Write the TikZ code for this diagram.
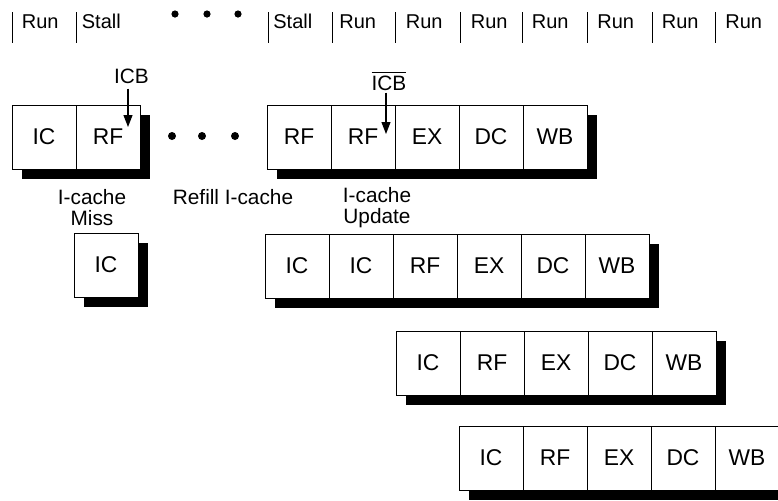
\documentclass[tikz,border=0pt]{standalone}
\usepackage{fontspec}
\setmainfont{Liberation Sans}
\usetikzlibrary{positioning,shadows,arrows.meta}

\tikzset{
  stage/.style={draw, fill=white, line width=0.5pt, outer sep=0pt, inner sep=0pt,
    minimum width=32pt, minimum height=32pt,
    font=\fontsize{11.4}{13}\selectfont,
    drop shadow={shadow xshift=5pt, shadow yshift=-5pt, fill=black, opacity=1}},
  note/.style={align=center, inner sep=0pt, font=\fontsize{10.4}{10.5}\selectfont},
  phase/.style={anchor=base west, inner sep=0pt, font=\fontsize{10}{11}\selectfont},
  hit/.style={-{Triangle[length=6pt,width=4.5pt]}, line width=0.6pt}
}

\begin{document}
\begin{tikzpicture}[x=0.5pt, y=-0.5pt]
\clip (0,0) rectangle (778,500);

% time line
\foreach \x/\tx/\lbl [count=\i] in {12.7/21.5/Run, 76/81.5/Stall, 268/273/Stall,
    332/339/Run, 395/405.5/Run, 460/470.5/Run, 522/531.5/Run, 587/597/Run,
    652/661.5/Run, 715/725/Run}{
  \draw[line width=0.5pt] (\x,12) -- (\x,43);
  \node[phase] (t\i) at (\tx,28) {\lbl};
}
\foreach \x in {175,207,238} \fill (\x,14) circle (3.6);

% miss
\node[stage, anchor=west] (m1) at (12,137) {IC};
\node[stage, right=0pt of m1] (m2) {RF};
\node[note, anchor=base] (icb) at (131.5,83) {ICB};
\coordinate (icbend) at (128,127);
\draw[hit, shorten <=2.5pt] (icb.south -| icbend) -- (icbend);

\foreach \x in {172,202,235} \fill (\x,136) circle (4);

% refill done
\node[stage, anchor=west] (u1) at (267,137) {RF};
\node[stage, right=0pt of u1] (u2) {RF};
\node[stage, right=0pt of u2] (u3) {EX};
\node[stage, right=0pt of u3] (u4) {DC};
\node[stage, right=0pt of u4] (u5) {WB};
\node[note, anchor=base] (nicb) at (389,90) {$\overline{\hbox{ICB}}$};
\coordinate (nicbend) at (386,134);
\draw[hit, shorten <=1pt] (nicb.south -| nicbend) -- (nicbend);

\node[note, anchor=base] (miss) at (92,225) {I-cache\\Miss};
\node[note, anchor=base] (refill) at (233,204) {Refill I-cache};
\node[note, anchor=base] (upd) at (377,223) {I-cache\\Update};

% next instructions
\node[stage, anchor=west] (s1) at (74,265) {IC};

\node[stage, anchor=west] (d1) at (265,266) {IC};
\node[stage, right=0pt of d1] (d2) {IC};
\node[stage, right=0pt of d2] (d3) {RF};
\node[stage, right=0pt of d3] (d4) {EX};
\node[stage, right=0pt of d4] (d5) {DC};
\node[stage, right=0pt of d5] (d6) {WB};

\node[stage, anchor=west] (e1) at (396,363) {IC};
\node[stage, right=0pt of e1] (e2) {RF};
\node[stage, right=0pt of e2] (e3) {EX};
\node[stage, right=0pt of e3] (e4) {DC};
\node[stage, right=0pt of e4] (e5) {WB};

\node[stage, anchor=west] (f1) at (459,458) {IC};
\node[stage, right=0pt of f1] (f2) {RF};
\node[stage, right=0pt of f2] (f3) {EX};
\node[stage, right=0pt of f3] (f4) {DC};
\node[stage, right=0pt of f4] (f5) {WB};
\end{tikzpicture}
\end{document}
